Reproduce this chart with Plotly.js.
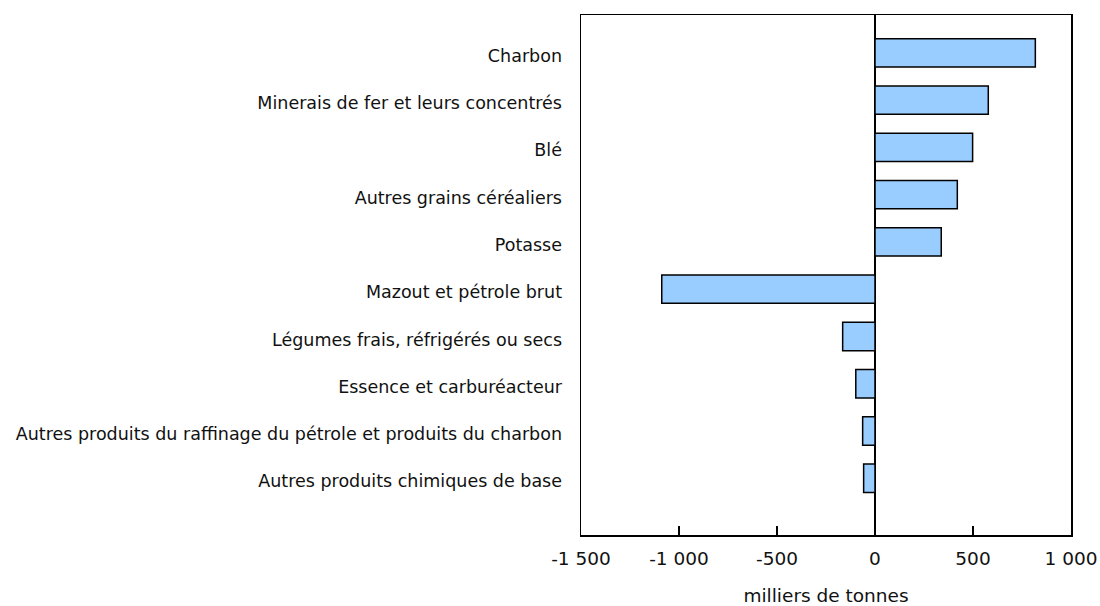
<!DOCTYPE html>
<html><head><meta charset="utf-8">
<script src="https://cdn.plot.ly/plotly-3.0.1.min.js"></script>
<style>body{margin:0;background:#fff}#c{width:1100px;height:606px}</style>
</head><body><div id="c"></div>
<script>
const categories = ["Charbon","Minerais de fer et leurs concentrés","Blé","Autres grains céréaliers","Potasse","Mazout et pétrole brut","Légumes frais, réfrigérés ou secs","Essence et carburéacteur","Autres produits du raffinage du pétrole et produits du charbon","Autres produits chimiques de base"];
const values = [818, 578, 498, 420, 338, -1088, -165, -98, -63, -58];
const tickVals = [-1500, -1000, -500, 0, 500, 1000];
const tickText = ["-1 500", "-1 000", "-500", "0", "500", "1 000"];
const xTitle = "milliers de tonnes";

const font = "Verdana, 'DejaVu Sans', sans-serif";
Plotly.newPlot('c', [{
  type: 'bar', orientation: 'h',
  x: values, y: categories.map((c,i)=>i),
  width: 0.6,
  marker: {color: '#99CCFF', line: {color: '#000', width: 1.5}},
  hoverinfo: 'x'
}], {
  width: 1100, height: 606,
  margin: {l: 581, r: 29, t: 15, b: 71},
  paper_bgcolor: '#fff', plot_bgcolor: '#fff',
  showlegend: false,
  xaxis: {
    range: [-1500, 1000], tickvals: tickVals, ticktext: tickText,
    ticks: 'inside', ticklen: 9, tickcolor: '#000', tickwidth: 1.5,
    showline: true, linecolor: '#000', linewidth: 1.5, mirror: true,
    showgrid: false, zeroline: true, zerolinecolor: '#000', zerolinewidth: 1.5,
    ticklabelstandoff: 6,
    tickfont: {family: font, size: 18.5, color: '#111'},
    title: {text: xTitle, font: {family: font, size: 18.5, color: '#111'}, standoff: 21}
  },
  yaxis: {
    range: [10.2, -0.8], tickvals: categories.map((c,i)=>i), ticktext: categories,
    ticks: '', showline: true, linecolor: '#000', linewidth: 1.5, mirror: true,
    showgrid: false, zeroline: false, ticklabelstandoff: 14, ticklabelshift: -3,
    tickfont: {family: font, size: 17.5, color: '#111'}
  }
}, {displayModeBar: false, staticPlot: true});
</script></body></html>
